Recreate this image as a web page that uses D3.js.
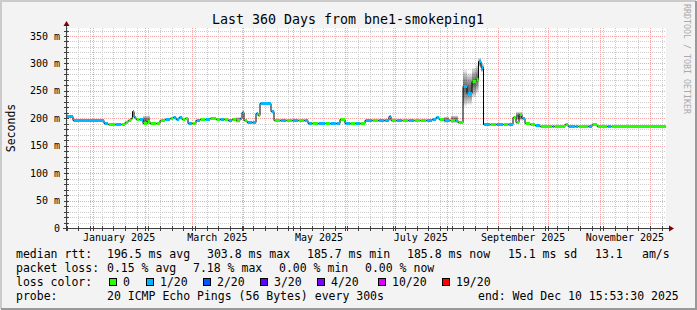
<!DOCTYPE html>
<html>
<head>
<meta charset="utf-8">
<script src="https://cdn.jsdelivr.net/npm/d3@7"></script>
<style>
  body { margin: 0; background: #f3f3f3; }
  text { font-family: "DejaVu Sans Mono", monospace; }
</style>
</head>
<body>
<svg id="chart" width="697" height="310"></svg>
<script>
(function () {
    'use strict';

    // time span of the graph (local time of the probe, kept as UTC)
    var startTime = Date.UTC(2024, 11, 15, 15, 53, 30);
    var endTime = Date.UTC(2025, 11, 10, 15, 53, 30);

    // median rtt as steps: start day (from startTime), value in ms, loss bucket
    var runDay = [0, 4.2, 22.8, 25.2, 29.4, 33, 35.4, 37.2, 39, 39.9, 40.8, 42, 43.8, 46.2, 48.6, 50.4,
        54, 56.4, 59.4, 62.4, 64.2, 66, 67.8, 69.6, 71.4, 73.2, 75.6, 78, 80.4, 83.4, 86.4, 90,
        92.4, 94.8, 97.2, 99.6, 102, 104.4, 105.6, 106.8, 108.6, 111.6, 114, 115.2, 116.4, 123, 124.8,
        128.4, 132, 135.6, 139.2, 142.8, 145.2, 147.6, 151.2, 155.4, 158.4, 162, 164.4, 167.4, 170.4,
        173.4, 176.4, 179.4, 183.6, 187.2, 190.8, 193.8, 195, 198, 201.6, 205.2, 208.8, 212.4, 216,
        219.6, 222, 223.8, 226.8, 230.4, 233.4, 235.2, 238.2, 240.6, 243.6, 246, 247.5, 249, 250.5,
        254.4, 258, 262.2, 265.2, 268.2, 270, 271.8, 273.6, 275.4, 278.4, 281.4, 284.4, 291.6, 292.8,
        299.4, 301.2, 305.4, 307.2, 313.2, 315.6, 318.6, 324.6, 327];
    var runMs = [204, 197, 192, 190, 190, 190, 194, 197, 201, 213, 203, 199, 198, 192, 195, 191,
        192, 197, 199, 200, 202, 198, 203, 199, 201, 192, 191, 197, 199, 199, 200, 198,
        199, 198, 196, 199, 197, 201, 211, 196, 194, 194, 210, 206, 227, 214, 197,
        196, 197, 196, 197, 196, 192, 191, 191, 191, 192, 191, 198, 191, 191,
        192, 191, 197, 197, 196, 197, 205, 197, 196, 197, 196, 197, 196, 197,
        199, 203, 199, 197, 196, 197, 194, 258, 247, 268, 271, 304, 294, 190,
        190, 190, 190, 190, 202, 193, 207, 201, 192, 190, 187, 186, 186, 186,
        189, 186, 186, 186, 186, 189, 186, 186, 186];
    var runLoss = [1, 1, 1, 0, 1, 0, 0, 0, 0, 1, 1, 0, 1, 0, 0, 0,
        0, 0, 1, 0, 1, 1, 1, 0, 0, 1, 0, 1, 0, 1, 0, 0,
        1, 0, 1, 0, 0, 1, 1, 0, 1, 1, 1, 0, 1, 1, 0,
        1, 0, 1, 0, 1, 1, 0, 1, 0, 1, 1, 0, 1, 0,
        1, 0, 1, 0, 1, 1, 1, 0, 1, 0, 1, 0, 0, 1,
        1, 1, 0, 1, 0, 1, 0, 1, 1, 0, 0, 1, 1, 1,
        0, 1, 0, 1, 0, 0, 0, 1, 0, 0, 1, 0, 1, 0,
        0, 1, 1, 0, 1, 0, 0, 1, 0];

    // smoke (spread of the pings): from day, to day, low ms, high ms
    var smokeFrom = [46.2, 102, 226.8, 231, 238.2, 240.6, 243.6, 246, 247.5, 249, 270];
    var smokeTo = [50.4, 104.4, 229.8, 235.2, 240.6, 243.6, 246, 247.5, 249, 250.5, 273.6];
    var smokeLo = [188, 192, 192, 191, 222, 225, 238, 245, 294, 284, 196];
    var smokeHi = [205, 202, 203, 205, 288, 282, 292, 298, 310, 300, 212];

    var yTicks = [0, 50, 100, 150, 200, 250, 300, 350];
    var labelMonths = [0, 2, 4, 6, 8, 10];   // months of 2025 that get a label

    var rttStats = [[196.5, 'avg'], [303.8, 'max'], [185.7, 'min'], [185.8, 'now']];
    var rttSd = 15.1;
    var rttAms = 13.1;
    var lossStats = [[0.15, 'avg'], [7.18, 'max'], [0, 'min'], [0, 'now']];
    var lossLabels = ['0', '1/20', '2/20', '3/20', '4/20', '10/20', '19/20'];
    var lossColors = ['#26ff00', '#00b8ff', '#0059ff', '#5e00ff', '#7e00ff', '#dd00ff', '#ff0000'];
    var probeText = '20 ICMP Echo Pings (56 Bytes) every 300s';
    var endText = 'end: Wed Dec 10 15:53:30 2025';

    var DAY = 86400000;
    var svg = d3.select('#chart');
    var plotL = 66, plotR = 666, plotT = 28, plotB = 228;

    var x = d3.scaleUtc().domain([startTime, endTime]).range([plotL, plotR]);
    var y = d3.scaleLinear().domain([0, 364.6]).range([plotB, plotT]);

    // frame
    svg.append('rect').attr('width', 697).attr('height', 310).attr('fill', '#f3f3f3');
    svg.append('path').attr('d', 'M1,309V1H696').attr('fill', 'none')
        .attr('stroke', '#cbcbcb').attr('stroke-width', 2);
    svg.append('path').attr('d', 'M1,309H696V1').attr('fill', 'none')
        .attr('stroke', '#999').attr('stroke-width', 2);
    svg.append('rect').attr('x', plotL).attr('y', plotT)
        .attr('width', plotR - plotL).attr('height', plotB - plotT).attr('fill', '#fff');

    // grid
    var grid = svg.append('g');
    var minorY = d3.range(10, 365, 10).filter(function (v) { return v % 50 !== 0; });
    grid.selectAll('line.hmin').data(minorY).enter().append('line')
        .attr('x1', plotL).attr('x2', plotR)
        .attr('y1', function (d) { return Math.round(y(d)) + 0.5; })
        .attr('y2', function (d) { return Math.round(y(d)) + 0.5; })
        .attr('stroke', '#cccccc').attr('stroke-dasharray', '1,1');
    var weeks = d3.utcMonday.range(new Date(startTime), new Date(endTime));
    grid.selectAll('line.vmin').data(weeks).enter().append('line')
        .attr('x1', function (d) { return Math.round(x(d)) + 0.5; })
        .attr('x2', function (d) { return Math.round(x(d)) + 0.5; })
        .attr('y1', plotT).attr('y2', plotB)
        .attr('stroke', '#cccccc').attr('stroke-dasharray', '1,1');
    grid.selectAll('line.hmaj').data(yTicks.slice(1)).enter().append('line')
        .attr('x1', plotL).attr('x2', plotR)
        .attr('y1', function (d) { return Math.round(y(d)) + 0.5; })
        .attr('y2', function (d) { return Math.round(y(d)) + 0.5; })
        .attr('stroke', '#f4a4a4').attr('stroke-dasharray', '1,1');
    var months = d3.utcMonth.range(new Date(startTime), new Date(endTime));
    grid.selectAll('line.vmaj').data(months).enter().append('line')
        .attr('x1', function (d) { return Math.round(x(d)) + 0.5; })
        .attr('x2', function (d) { return Math.round(x(d)) + 0.5; })
        .attr('y1', plotT).attr('y2', plotB)
        .attr('stroke', '#f4a4a4').attr('stroke-dasharray', '1,1');

    // smoke
    var smoke = svg.append('g');
    var layers = d3.range(8);
    smokeFrom.forEach(function (f, i) {
        var mid = (smokeLo[i] + smokeHi[i]) / 2;
        layers.forEach(function (k) {
            var s = 1 - k / layers.length;
            var lo = mid - (mid - smokeLo[i]) * s, hi = mid + (smokeHi[i] - mid) * s;
            smoke.append('rect')
                .attr('x', x(startTime + f * DAY))
                .attr('width', x(startTime + smokeTo[i] * DAY) - x(startTime + f * DAY))
                .attr('y', y(hi)).attr('height', y(lo) - y(hi))
                .attr('fill', '#000').attr('fill-opacity', 0.1);
        });
    });

    // median line
    var runs = runDay.map(function (d, i) {
        return {
            t0: startTime + d * DAY,
            t1: i + 1 < runDay.length ? startTime + runDay[i + 1] * DAY : endTime,
            v: runMs[i], loss: runLoss[i]
        };
    });
    var pts = runs.map(function (r) { return [r.t0, r.v]; });
    pts.push([endTime, runs[runs.length - 1].v]);
    svg.append('path').datum(pts)
        .attr('d', d3.line()
            .x(function (d) { return x(d[0]); })
            .y(function (d) { return Math.round(y(d[1])) + 0.5; })
            .curve(d3.curveStepAfter))
        .attr('fill', 'none').attr('stroke', '#000').attr('stroke-width', 1);
    svg.append('g').selectAll('line').data(runs).enter().append('line')
        .attr('x1', function (d) { return x(d.t0) + 0.5; })
        .attr('x2', function (d) { return x(d.t1); })
        .attr('y1', function (d) { return Math.round(y(d.v)) + 0.5; })
        .attr('y2', function (d) { return Math.round(y(d.v)) + 0.5; })
        .attr('stroke', function (d) { return lossColors[d.loss]; })
        .attr('stroke-width', 3);

    // axes
    var axisCol = '#404040';
    svg.append('line').attr('x1', 63).attr('x2', 669).attr('y1', plotB + 0.5).attr('y2', plotB + 0.5)
        .attr('stroke', axisCol);
    svg.append('line').attr('x1', plotL + 0.5).attr('x2', plotL + 0.5).attr('y1', 25).attr('y2', 231)
        .attr('stroke', axisCol);
    svg.append('path').attr('d', 'M' + (plotL - 2.5) + ',26L' + (plotL + 0.5) + ',21L' + (plotL + 3.5) + ',26Z')
        .attr('fill', '#7f0000');
    svg.append('path').attr('d', 'M669,225.5L674,228.5L669,231.5Z').attr('fill', '#7f0000');
    // axis ticks
    svg.selectAll('line.yt').data(minorY.concat(yTicks.slice(1))).enter().append('line')
        .attr('x1', plotL - 2).attr('x2', plotL + 3)
        .attr('y1', function (d) { return Math.round(y(d)) + 0.5; })
        .attr('y2', function (d) { return Math.round(y(d)) + 0.5; })
        .attr('stroke', axisCol);
    svg.selectAll('line.xt').data(weeks.concat(months)).enter().append('line')
        .attr('x1', function (d) { return Math.round(x(d)) + 0.5; })
        .attr('x2', function (d) { return Math.round(x(d)) + 0.5; })
        .attr('y1', plotB - 2).attr('y2', plotB + 3)
        .attr('stroke', axisCol);

    // y labels
    svg.selectAll('text.yl').data(yTicks).enter().append('text')
        .attr('x', 60).attr('y', function (d) { return y(d) + 3.6; })
        .attr('text-anchor', 'end').attr('font-size', 10).attr('fill', '#000')
        .text(function (d) { return d === 0 ? '0' : d + ' m'; });
    // x labels, centred on the month
    var fmt = d3.utcFormat('%B %Y');
    svg.selectAll('text.xl').data(labelMonths).enter().append('text')
        .attr('x', function (m) {
            var a = Date.UTC(2025, m, 1), b = Date.UTC(2025, m + 1, 1);
            return x((a + b) / 2);
        })
        .attr('y', 240.5).attr('text-anchor', 'middle').attr('font-size', 10)
        .text(function (m) { return fmt(new Date(Date.UTC(2025, m, 1))); });

    // titles
    svg.append('text').attr('x', 348).attr('y', 24).attr('text-anchor', 'middle')
        .attr('font-size', 13.3).text('Last 360 Days from bne1-smokeping1');
    svg.append('text').attr('transform', 'translate(15,128) rotate(-90)')
        .attr('text-anchor', 'middle').attr('font-size', 11.5).text('Seconds');
    svg.append('text').attr('transform', 'translate(684,4) rotate(90)')
        .attr('font-size', 8.3).attr('fill', '#aaa').text('RRDTOOL / TOBI OETIKER');

    // legend
    var fs = 11.5;
    var leg = svg.append('g').attr('font-size', fs).attr('xml:space', 'preserve');
    function put(str, px, py) {
        leg.append('text').attr('x', px).attr('y', py).text(str);
    }
    put('median rtt:', 16, 258);
    var rttX = [107, 207, 307, 407];
    rttStats.forEach(function (s, i) { put(s[0].toFixed(1) + ' ms ' + s[1], rttX[i], 258); });
    put(rttSd.toFixed(1) + ' ms sd', 508, 258);
    put(rttAms.toFixed(1), 595, 258);
    put('am/s', 642, 258);

    put('packet loss:', 16, 272);
    var lossX = [107, 193, 279, 365];
    lossStats.forEach(function (s, i) { put(s[0].toFixed(2) + ' % ' + s[1], lossX[i], 272); });

    put('loss color:', 16, 286);
    var swX = [109, 146, 203, 260, 317, 378, 442];
    lossLabels.forEach(function (l, i) {
        leg.append('rect').attr('x', swX[i] + 0.5).attr('y', 278.5).attr('width', 7).attr('height', 7)
            .attr('fill', lossColors[i]).attr('stroke', '#000');
        put(l, swX[i] + 14, 286);
    });

    put('probe:', 16, 300);
    put(probeText, 107, 300);
    put(endText, 478, 300);
}());
</script>
</body>
</html>
